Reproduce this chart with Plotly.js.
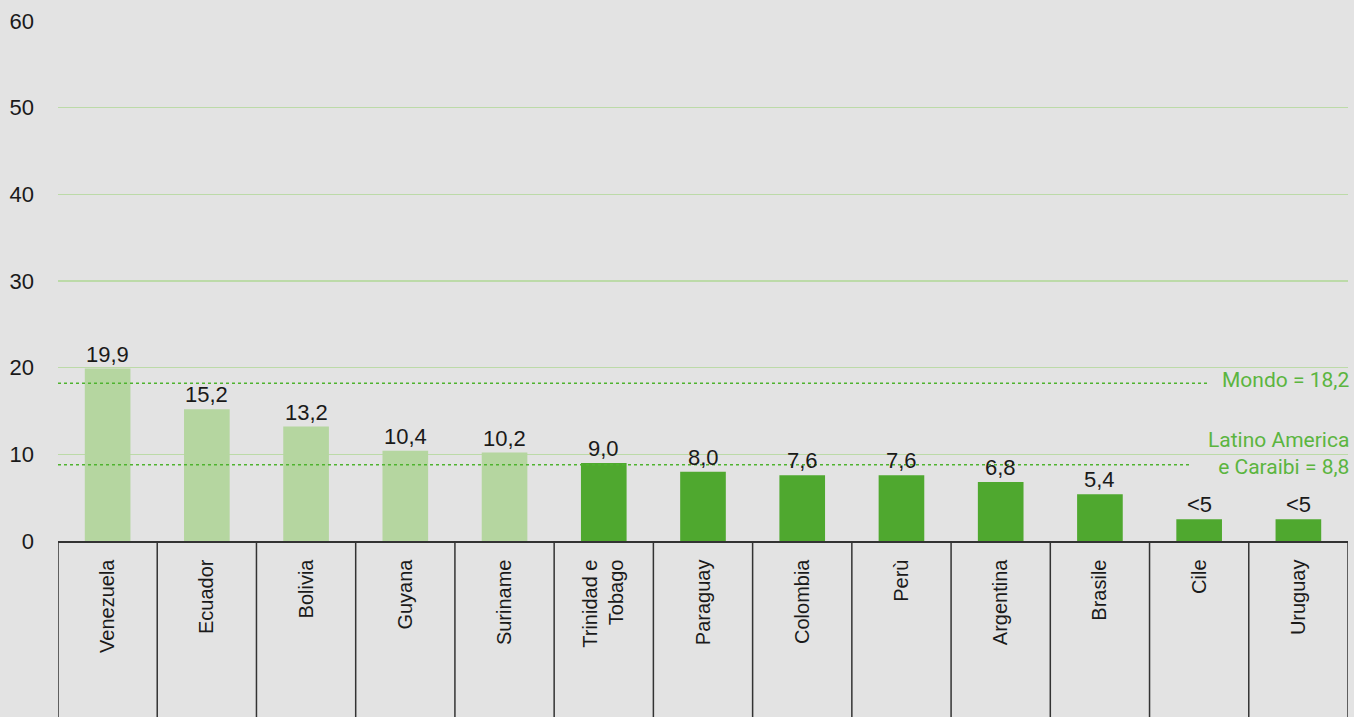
<!DOCTYPE html>
<html>
<head>
<meta charset="utf-8">
<script src="https://cdn.plot.ly/plotly-3.0.1.min.js"></script>
<style>html,body{margin:0;padding:0;background:#e3e3e3;}#chart{width:1354px;height:717px;}</style>
</head>
<body>
<div id="chart"></div>
<script>
const countries = ["Venezuela","Ecuador","Bolivia","Guyana","Suriname","Trinidad e<br>Tobago","Paraguay","Colombia","Perù","Argentina","Brasile","Cile","Uruguay"];
const values = [19.9, 15.2, 13.2, 10.4, 10.2, 9.0, 8.0, 7.6, 7.6, 6.8, 5.4, 2.5, 2.5];
const valueLabels = ["19,9","15,2","13,2","10,4","10,2","9,0","8,0","7,6","7,6","6,8","5,4","<5","<5"];
const groups = ["high","high","high","high","high","mid","mid","mid","mid","mid","mid","mid","mid"];
const refValues = [18.2, 8.8];
const refLabels = ["Mondo = 18,2", "Latino America<br>e Caraibi = 8,8"];
const yTicks = [0, 10, 20, 30, 40, 50, 60];

const colorMap = {high: "#b5d6a0", mid: "#4fa82f"};
const xIdx = countries.map((c, i) => i);

const trace = {
  type: "bar",
  x: xIdx,
  y: values,
  width: 0.46,
  marker: {color: groups.map(g => colorMap[g])},
  hoverinfo: "none"
};

const shapes = [];
for (let i = 0; i <= countries.length; i++) {
  shapes.push({type: "line", xref: "x", yref: "paper", x0: i - 0.5, x1: i - 0.5, y0: 0, y1: -0.5,
    line: {color: "#333333", width: 1.5}, layer: "above"});
}
const refEnds = [0.893, 0.879];
refValues.forEach((v, k) => {
  shapes.push({type: "line", xref: "paper", yref: "y", x0: 0, x1: refEnds[k], y0: v, y1: v,
    line: {color: "#4fb32f", width: 1.3, dash: "dot"}, layer: "above"});
});

const annotations = refValues.map((v, k) => ({
  xref: "paper", yref: "y", x: 1.0, y: v, xanchor: "right", yanchor: "bottom",
  text: refLabels[k], showarrow: false, align: "right", xshift: 3, yshift: k === 0 ? -11 : -16,
  font: {family: "Roboto, sans-serif", size: 21, color: "#5bb53f"}
}));
values.forEach((v, i) => {
  annotations.push({
    xref: "x", yref: "y", x: i, y: v, xanchor: "center", yanchor: "bottom",
    text: valueLabels[i], showarrow: false, yshift: 0,
    font: {family: "Liberation Sans, Arial, sans-serif", size: 22, color: "#1a1a1a"}
  });
});

const layout = {
  width: 1354, height: 717,
  margin: {l: 58, r: 6, t: 21, b: 176},
  paper_bgcolor: "#e3e3e3",
  plot_bgcolor: "#e3e3e3",
  showlegend: false,
  xaxis: {
    range: [-0.5, countries.length - 0.5],
    tickmode: "array", tickvals: xIdx, ticktext: countries,
    tickangle: -90, ticks: "", ticklabelstandoff: 9,
    tickfont: {family: "Liberation Sans, Arial, sans-serif", size: 20, color: "#1a1a1a"},
    showline: true, linecolor: "#333333", linewidth: 1.5,
    showgrid: false, zeroline: false, fixedrange: true
  },
  yaxis: {
    range: [0, 60],
    tickmode: "array", tickvals: yTicks, ticktext: yTicks.map(String),
    ticks: "", ticklabelstandoff: 23,
    tickfont: {family: "Liberation Sans, Arial, sans-serif", size: 22, color: "#1a1a1a"},
    showgrid: true, gridcolor: "#bcdaa8", gridwidth: 1.5,
    zeroline: false, showline: false, fixedrange: true
  },
  shapes: shapes,
  annotations: annotations
};

Plotly.newPlot("chart", [trace], layout, {staticPlot: true, displayModeBar: false});
</script>
</body>
</html>
